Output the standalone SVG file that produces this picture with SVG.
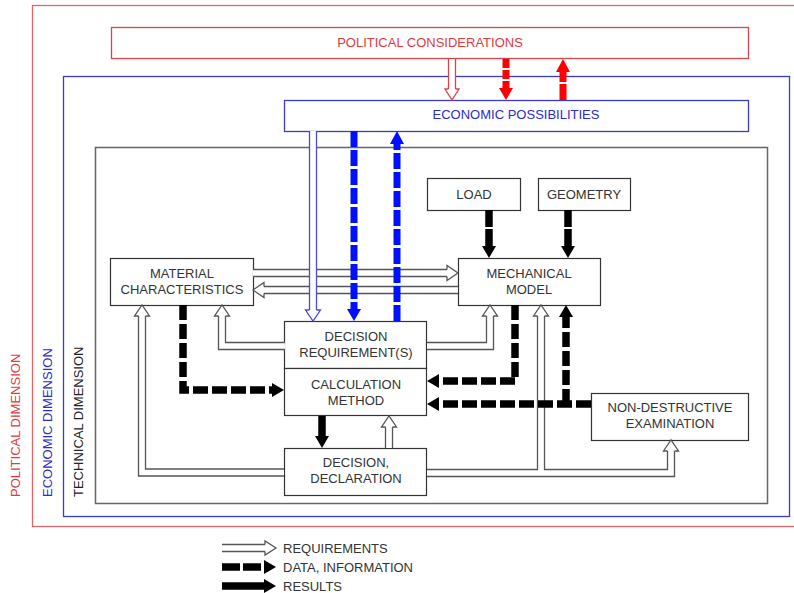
<svg xmlns="http://www.w3.org/2000/svg" width="794" height="593" viewBox="0 0 794 593">
<style>
text{font-family:"Liberation Sans",Arial,sans-serif;font-size:13px;fill:#333;text-anchor:middle}
.box{fill:#fff;stroke:#333;stroke-width:1.2}
.red{fill:#e03a40}
.blu{fill:#2a2ad0}
.ro{fill:none;stroke:#555;stroke-width:8.3;stroke-linejoin:miter}
.ri{fill:none;stroke:#fff;stroke-width:5.7;stroke-linejoin:miter}
.rh{fill:#fff;stroke:#555;stroke-width:1.3;stroke-linejoin:miter}
.d{fill:none;stroke:#000;stroke-width:7.5;stroke-dasharray:15 4;stroke-linejoin:miter}
.s{fill:none;stroke:#000;stroke-width:7.5}
.h{fill:#000}
</style>
<rect width="794" height="593" fill="#fff"/>
<g id="political-dimension">
<rect x="32.5" y="5.5" width="800" height="521" fill="none" stroke="#e06468" stroke-width="1.3"/>
<text class="red" transform="translate(20,497) rotate(-90)" style="text-anchor:start">POLITICAL DIMENSION</text>
</g>
<g id="economic-dimension">
<rect x="63.5" y="76.5" width="726" height="440" fill="none" stroke="#3a3ad0" stroke-width="1.3"/>
<text class="blu" transform="translate(52,497) rotate(-90)" style="text-anchor:start">ECONOMIC DIMENSION</text>
</g>
<g id="technical-dimension">
<rect x="95.5" y="147.5" width="672" height="356" fill="none" stroke="#666" stroke-width="1.5"/>
<text transform="translate(83,497) rotate(-90)" style="text-anchor:start;fill:#222">TECHNICAL DIMENSION</text>
</g>
<g id="political-considerations">
<rect x="111.5" y="27.5" width="637" height="31" fill="#fff" stroke="#d9444a" stroke-width="1.3"/>
<text class="red" x="430" y="47">POLITICAL CONSIDERATIONS</text>
</g>
<g id="economic-possibilities">
<rect x="284.5" y="100.5" width="464" height="31" fill="#fff" stroke="#3a3ad0" stroke-width="1.3"/>
<text class="blu" x="516" y="119">ECONOMIC POSSIBILITIES</text>
</g>
<g id="load">
<rect class="box" x="427.5" y="178.5" width="93" height="32"/>
<text x="474" y="199">LOAD</text>
</g>
<g id="geometry">
<rect class="box" x="538.5" y="178.5" width="92" height="32"/>
<text x="584" y="199">GEOMETRY</text>
</g>
<g id="material-characteristics">
<rect class="box" x="110.5" y="258.5" width="143" height="47"/>
<text x="182" y="278">MATERIAL</text>
<text x="182" y="294">CHARACTERISTICS</text>
</g>
<g id="mechanical-model">
<rect class="box" x="458.5" y="258.5" width="142" height="47"/>
<text x="529" y="278">MECHANICAL</text>
<text x="529" y="294">MODEL</text>
</g>
<g id="decision-requirements">
<rect class="box" x="284.5" y="321.5" width="142" height="47"/>
<text x="356" y="341">DECISION</text>
<text x="356" y="357">REQUIREMENT(S)</text>
</g>
<g id="calculation-method">
<rect class="box" x="284.5" y="368.5" width="142" height="47"/>
<text x="356" y="388.5">CALCULATION</text>
<text x="356" y="404.5">METHOD</text>
</g>
<g id="decision-declaration">
<rect class="box" x="284.5" y="448.5" width="142" height="47"/>
<text x="356" y="467">DECISION,</text>
<text x="356" y="483">DECLARATION</text>
</g>
<g id="non-destructive-examination">
<rect class="box" x="591.5" y="393.5" width="157" height="47"/>
<text x="670" y="412">NON-DESTRUCTIVE</text>
<text x="670" y="428">EXAMINATION</text>
</g>
<g id="connectors">
<!-- requirement (hollow) arrows -->
<path class="ro" d="M253,273H447M458,290H264M285,346H222V316M427,346H490V316M284,472.5H142V316M427,473H671V451M541,473V316M389,448V427"/>
<path class="ri" d="M253,273H447M458,290H264M285,346H222V316M427,346H490V316M284,472.5H142V316M427,473H671V451M541,473V316M389,448V427"/>
<path class="rh" d="M447,269.5V265.5L458,273L447,280.5V276.5"/>
<path class="rh" d="M264,286.5V282.5L253,290L264,297.5V293.5"/>
<path class="rh" d="M218.5,316H214.5L222,305L229.5,316H225.5"/>
<path class="rh" d="M486.5,316H482.5L490,305L497.5,316H493.5"/>
<path class="rh" d="M138.5,316H134.5L142,305L149.5,316H145.5"/>
<path class="rh" d="M537.5,316H533.5L541,305L548.5,316H544.5"/>
<path class="rh" d="M667.5,451H663.5L671,440L678.5,451H674.5"/>
<path class="rh" d="M385.5,427H381.5L389,416L396.5,427H392.5"/>
<!-- political -> economic -->
<path class="ro" style="stroke:#d9444a" d="M452,59V89"/>
<path class="ri" d="M452,59V89"/>
<path class="rh" style="stroke:#d9444a" d="M448.5,89H445L452,100L459,89H455.5"/>
<path class="d" style="stroke:#f00;stroke-dasharray:9 2;stroke-width:7" d="M506,59V89"/>
<polygon fill="#f00" points="499,88 513,88 506,100"/>
<path class="d" style="stroke:#f00;stroke-dasharray:16 2;stroke-width:7" d="M563,100V71"/>
<polygon fill="#f00" points="556,72 570,72 563,59"/>
<!-- economic -> technical -->
<path class="ro" style="stroke:#4a4ad8" d="M313,131V310"/>
<path class="ri" d="M313,131V310"/>
<path class="rh" style="stroke:#4a4ad8" d="M309.5,310H305.5L313,321L320.5,310H316.5"/>
<path class="d" style="stroke:#0010ff;stroke-dasharray:16 3;stroke-width:7" d="M354,131V310"/>
<polygon fill="#0010ff" points="347,309 361,309 354,321"/>
<path class="d" style="stroke:#0010ff;stroke-dasharray:16 3;stroke-width:7" d="M397,321V143"/>
<polygon fill="#0010ff" points="390,144 404,144 397,131"/>
<!-- data arrows -->
<path class="d" style="stroke-dasharray:17 2" d="M489,210V247"/>
<polygon class="h" points="482,246 496,246 489,258"/>
<path class="d" style="stroke-dasharray:17 2" d="M568,210V247"/>
<polygon class="h" points="561,246 575,246 568,258"/>
<path class="d" d="M183,305V390H273"/>
<polygon class="h" points="272,383 272,397 284,390"/>
<path class="d" d="M515,305V381H438"/>
<polygon class="h" points="439,374 439,388 427,381"/>
<path class="d" d="M591,404H438"/>
<polygon class="h" points="439,397 439,411 427,404"/>
<path class="d" d="M566,404V316"/>
<polygon class="h" points="559,317 573,317 566,305"/>
<!-- result arrow -->
<path class="s" d="M322,416V437"/>
<polygon class="h" points="315,436 329,436 322,448"/>
</g>
<g id="legend">
<path class="ro" d="M222,548H265"/>
<path class="ri" d="M222,548H265"/>
<path class="rh" d="M265,544.5V541L276,548L265,555V551.5"/>
<text x="283" y="553" style="text-anchor:start">REQUIREMENTS</text>
<path class="d" style="stroke-dasharray:18 3" d="M222,567H265"/>
<polygon class="h" points="264,560 264,574 276,567"/>
<text x="283" y="572" style="text-anchor:start">DATA, INFORMATION</text>
<path class="s" d="M222,586H265"/>
<polygon class="h" points="264,579 264,593 276,586"/>
<text x="283" y="591" style="text-anchor:start">RESULTS</text>
</g>
</svg>
